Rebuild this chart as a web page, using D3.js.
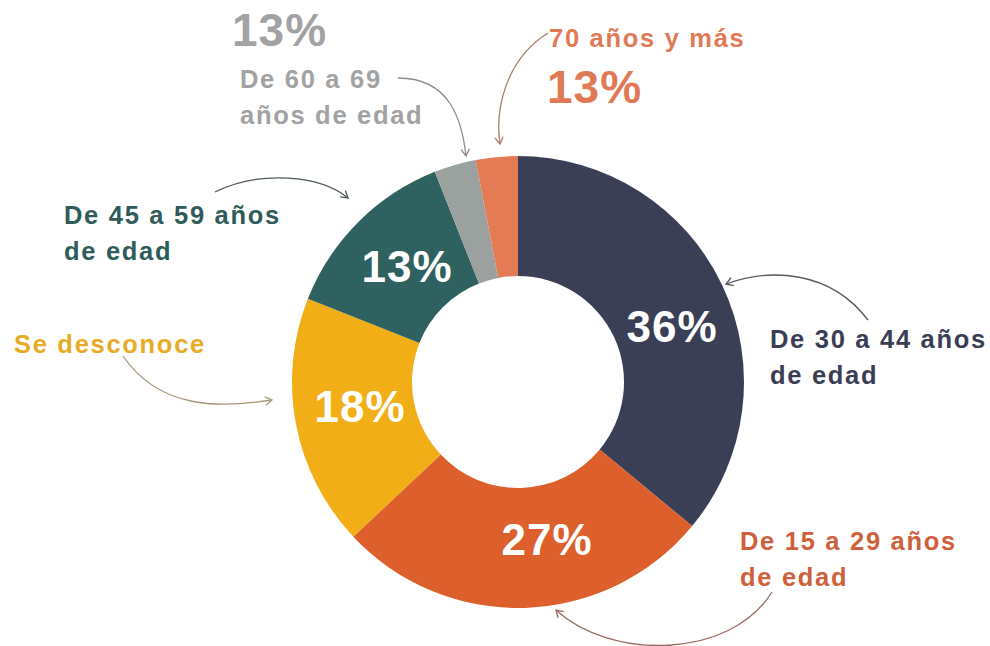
<!DOCTYPE html>
<html>
<head>
<meta charset="utf-8">
<script src="https://cdn.jsdelivr.net/npm/d3@7"></script>
<style>
  body { margin: 0; background: #fff; }
  svg { display: block; font-family: "Liberation Sans", Arial, sans-serif; font-weight: bold; }
</style>
</head>
<body>
<svg id="chart"></svg>
<script>
// slices, clockwise from 12 o'clock
const groups = ["30-44", "15-29", "desconoce", "45-59", "60-69", "70+"];
const shares = [36, 27, 18, 13, 3, 3];
const sliceColors = ["#3b3f56", "#dc5f2c", "#f1ae17", "#2f6160", "#9ba19e", "#e47b55"];
const insideLabels = ["36%", "27%", "18%", "13%", null, null];

// outer labels (text as printed)
const outerText = [
  ["De 30 a 44 años", "de edad"],
  ["De 15 a 29 años", "de edad"],
  ["Se desconoce"],
  ["De 45 a 59 años", "de edad"],
  ["De 60 a 69", "años de edad"],
  ["70 años y más"]
];
const outerPct = [null, null, null, null, "13%", "13%"];
const textColors = ["#3a3e55", "#d0603b", "#e8ab25", "#2f5c5a", "#a2a2a2", "#df7a55"];

const svgWidth = 990;
const svgHeight = 646;
const cx = 518;
const cy = 382;
const outerR = 226;
const innerR = 106;

const svg = d3.select("#chart").attr("width", svgWidth).attr("height", svgHeight);

const pie = d3.pie().sort(null).value((d) => d.value);
const arc = d3.arc().innerRadius(innerR).outerRadius(outerR);

const slices = pie(groups.map((g, i) => ({ key: g, value: shares[i], i })));

const donut = svg.append("g").attr("transform", `translate(${cx}, ${cy})`);

donut
  .selectAll("path")
  .data(slices)
  .join("path")
  .attr("d", arc)
  .attr("fill", (d) => sliceColors[d.data.i]);

// hand placed label centres inside the ring
const insidePos = [
  [154, -55],
  [29, 158],
  [-158, 25],
  [-111, -115]
];
donut
  .selectAll(".inside")
  .data(slices.filter((d) => insideLabels[d.data.i]))
  .join("text")
  .attr("class", "inside")
  .attr("x", (d) => insidePos[d.data.i][0])
  .attr("y", (d) => insidePos[d.data.i][1])
  .attr("dy", "0.35em")
  .attr("text-anchor", "middle")
  .attr("fill", "#fff")
  .style("font-size", "44px")
  .style("letter-spacing", "1px")
  .text((d) => insideLabels[d.data.i]);

// outer labels: [x, first baseline]
const outerPos = [
  [770, 348],
  [740, 550],
  [14, 353],
  [64, 224],
  [240, 88],
  [549, 47]
];
const lineGap = 36;

outerText.forEach((lines, i) => {
  const t = svg
    .append("text")
    .attr("x", outerPos[i][0])
    .attr("y", outerPos[i][1])
    .attr("fill", textColors[i])
    .style("font-size", "25.5px")
    .style("letter-spacing", "1.7px");
  lines.forEach((line, j) => {
    t.append("tspan")
      .attr("x", outerPos[i][0])
      .attr("dy", j === 0 ? 0 : lineGap)
      .text(line);
  });
});

// big percentages for the two thin slices
const pctPos = { 4: [232, 46], 5: [547, 103] };
Object.keys(pctPos).forEach((k) => {
  svg
    .append("text")
    .attr("x", pctPos[k][0])
    .attr("y", pctPos[k][1])
    .attr("fill", textColors[k])
    .style("font-size", "46px")
    .style("letter-spacing", "1px")
    .text(outerPct[k]);
});

// curved pointer arrows: start, control1, control2, end
const arrows = [
  { p: [[868, 320], [830, 270], [770, 268], [726, 284]], color: "#5a5a62" },
  { p: [[772, 592], [730, 660], [610, 660], [556, 610]], color: "#9a6a62" },
  { p: [[123, 356], [160, 410], [220, 408], [272, 400]], color: "#a8957a" },
  { p: [[215, 192], [260, 170], [320, 175], [348, 198]], color: "#4e5a5a" },
  { p: [[398, 78], [450, 78], [462, 120], [466, 156]], color: "#8f8a88" },
  { p: [[548, 33], [505, 60], [495, 110], [500, 144]], color: "#b07a68" }
];

arrows.forEach((a) => {
  const [s, c1, c2, e] = a.p;
  const path = d3.path();
  path.moveTo(s[0], s[1]);
  path.bezierCurveTo(c1[0], c1[1], c2[0], c2[1], e[0], e[1]);
  svg
    .append("path")
    .attr("d", path.toString())
    .attr("fill", "none")
    .attr("stroke", a.color)
    .attr("stroke-width", 1.3);

  // arrow head along the end tangent
  const ang = Math.atan2(e[1] - c2[1], e[0] - c2[0]);
  const len = 8;
  const spread = 0.55;
  const head = d3.path();
  head.moveTo(e[0] - len * Math.cos(ang - spread), e[1] - len * Math.sin(ang - spread));
  head.lineTo(e[0], e[1]);
  head.lineTo(e[0] - len * Math.cos(ang + spread), e[1] - len * Math.sin(ang + spread));
  svg
    .append("path")
    .attr("d", head.toString())
    .attr("fill", "none")
    .attr("stroke", a.color)
    .attr("stroke-width", 1.3);
});
</script>
</body>
</html>
